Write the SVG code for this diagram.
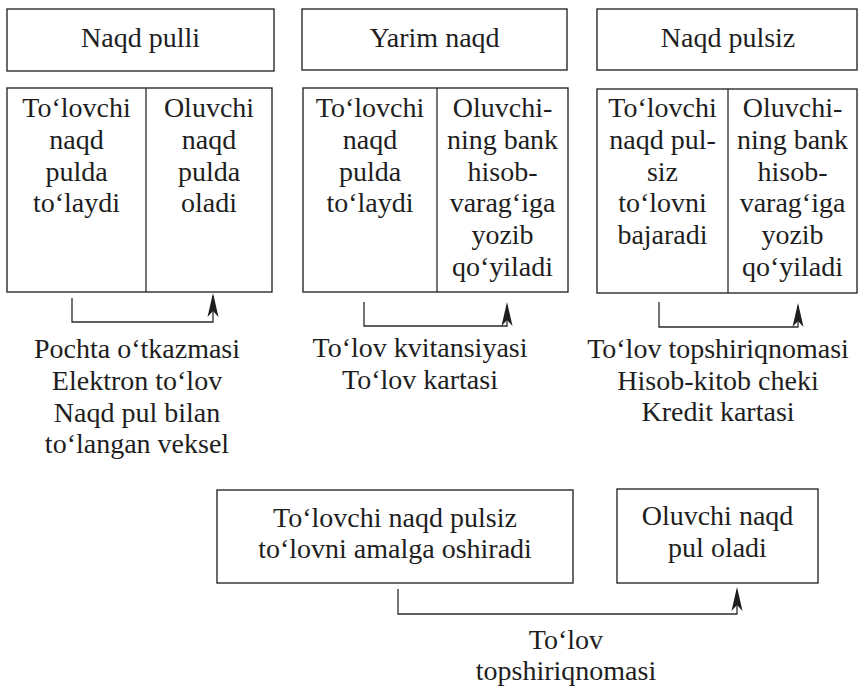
<svg xmlns="http://www.w3.org/2000/svg" width="858" height="686" viewBox="0 0 858 686">
<style>
.box{fill:#fff;stroke:#2b2b2b;stroke-width:1.4}
.div{stroke:#2b2b2b;stroke-width:1.3}
.con{fill:none;stroke:#2b2b2b;stroke-width:1.3}
text{font-family:'Liberation Serif',serif;font-size:28px;fill:#1e1e1e;text-anchor:middle}
</style>
<defs>
<marker id="arr" viewBox="-26 -7 30 14" refX="-3" refY="0" markerWidth="30" markerHeight="14" orient="auto" markerUnits="userSpaceOnUse">
<path d="M0,0 L-24,-5.5 L-18,0 L-24,5.5 Z" fill="#1e1e1e"/>
</marker>
</defs>
<rect width="858" height="686" fill="#fff"/>

<g id="naqd-pulli">
<rect class="box" x="7" y="9" width="267" height="62"/>
<text x="140.5" y="47">Naqd pulli</text>
</g>
<g id="naqd-pulli-detail">
<rect class="box" x="7" y="88" width="265" height="204"/>
<line class="div" x1="146" y1="88" x2="146" y2="292"/>
<text x="76.5" y="117">Toʻlovchi</text>
<text x="76.5" y="149">naqd</text>
<text x="76.5" y="181">pulda</text>
<text x="76.5" y="212">toʻlaydi</text>
<text x="209" y="117">Oluvchi</text>
<text x="209" y="149">naqd</text>
<text x="209" y="181">pulda</text>
<text x="209" y="212">oladi</text>
</g>
<g id="naqd-pulli-list">
<text x="137" y="358">Pochta oʻtkazmasi</text>
<text x="137" y="390">Elektron toʻlov</text>
<text x="137" y="422">Naqd pul bilan</text>
<text x="137" y="453">toʻlangan veksel</text>
</g>

<g id="yarim-naqd">
<rect class="box" x="302" y="9" width="265" height="61"/>
<text x="434.5" y="47">Yarim naqd</text>
</g>
<g id="yarim-naqd-detail">
<rect class="box" x="303" y="88" width="265" height="204"/>
<line class="div" x1="437" y1="88" x2="437" y2="292"/>
<text x="370" y="117">Toʻlovchi</text>
<text x="370" y="149">naqd</text>
<text x="370" y="181">pulda</text>
<text x="370" y="212">toʻlaydi</text>
<text x="502.5" y="117">Oluvchi-</text>
<text x="502.5" y="149">ning bank</text>
<text x="502.5" y="181">hisob-</text>
<text x="502.5" y="212">varagʻiga</text>
<text x="502.5" y="244">yozib</text>
<text x="502.5" y="276">qoʻyiladi</text>
</g>
<g id="yarim-naqd-list">
<text x="420" y="357">Toʻlov kvitansiyasi</text>
<text x="420" y="389">Toʻlov kartasi</text>
</g>

<g id="naqd-pulsiz">
<rect class="box" x="597" y="9" width="260" height="61"/>
<text x="728" y="47">Naqd pulsiz</text>
</g>
<g id="naqd-pulsiz-detail">
<rect class="box" x="597" y="89" width="260" height="204"/>
<line class="div" x1="728" y1="89" x2="728" y2="293"/>
<text x="662.5" y="117">Toʻlovchi</text>
<text x="662.5" y="149">naqd pul-</text>
<text x="662.5" y="181">siz</text>
<text x="662.5" y="212">toʻlovni</text>
<text x="662.5" y="244">bajaradi</text>
<text x="792.5" y="117">Oluvchi-</text>
<text x="792.5" y="149">ning bank</text>
<text x="792.5" y="181">hisob-</text>
<text x="792.5" y="212">varagʻiga</text>
<text x="792.5" y="244">yozib</text>
<text x="792.5" y="276">qoʻyiladi</text>
</g>
<g id="naqd-pulsiz-list">
<text x="718" y="358">Toʻlov topshiriqnomasi</text>
<text x="718" y="390">Hisob-kitob cheki</text>
<text x="718" y="421">Kredit kartasi</text>
</g>

<g id="tolovchi">
<rect class="box" x="217" y="490" width="356" height="93"/>
<text x="395" y="527">Toʻlovchi naqd pulsiz</text>
<text x="395" y="558">toʻlovni amalga oshiradi</text>
</g>
<g id="oluvchi">
<rect class="box" x="617" y="489" width="201" height="94"/>
<text x="717.5" y="525">Oluvchi naqd</text>
<text x="717.5" y="557">pul oladi</text>
</g>
<g id="bottom-label">
<text x="566" y="649">Toʻlov</text>
<text x="566" y="680">topshiriqnomasi</text>
</g>

<g id="connectors">
<path class="con" d="M72,298 V322 H213 V296" marker-end="url(#arr)"/>
<path class="con" d="M364,302 V326 H507 V305" marker-end="url(#arr)"/>
<path class="con" d="M659,302 V327 H798 V306" marker-end="url(#arr)"/>
<path class="con" d="M398,589 V614 H737 V590" marker-end="url(#arr)"/>
</g>
</svg>
